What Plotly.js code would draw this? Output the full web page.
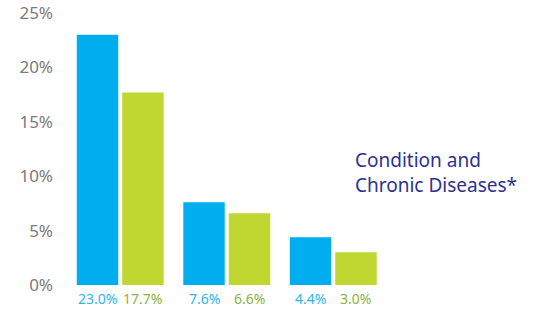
<!DOCTYPE html>
<html>
<head>
<meta charset="utf-8">
<script src="https://cdn.plot.ly/plotly-3.0.1.min.js"></script>
<style>html,body{margin:0;padding:0;background:#fff;}#chart{width:539px;height:310px;}</style>
</head>
<body>
<div id="chart"></div>
<script>
const groups = [0, 1, 2];
const seriesA = [23.0, 7.6, 4.4];
const seriesB = [17.7, 6.6, 3.0];
const labelsA = ["23.0%", "7.6%", "4.4%"];
const labelsB = ["17.7%", "6.6%", "3.0%"];
const yTicks = [0, 5, 10, 15, 20, 25];
const yTickText = ["0%", "5%", "10%", "15%", "20%", "25%"];
const noteText = "Condition and<br>Chronic Diseases*";

const colorA = "#00AEEF", colorB = "#C0D731";
const labelColorA = "#2DB6EC", labelColorB = "#8CB33B";
const fontFam = "'Noto Sans', sans-serif";
const bargap = 0.146;
const slot = (1 - bargap) / 2;

const traces = [
  {type: "bar", x: groups, y: seriesA, marker: {color: colorA}, hoverinfo: "none"},
  {type: "bar", x: groups, y: seriesB, marker: {color: colorB}, hoverinfo: "none"}
];

const annotations = [];
groups.forEach((g, i) => {
  annotations.push({x: g - slot / 2, y: 0, xref: "x", yref: "y", text: labelsA[i], showarrow: false,
    yanchor: "top", yshift: -2, font: {family: fontFam, size: 14, color: labelColorA}});
  annotations.push({x: g + slot / 2, y: 0, xref: "x", yref: "y", text: labelsB[i], showarrow: false,
    yanchor: "top", yshift: -2, font: {family: fontFam, size: 14, color: labelColorB}});
});
annotations.push({x: 0.671, y: 0.412, xref: "paper", yref: "paper", text: noteText, showarrow: false,
  xanchor: "left", yanchor: "middle", align: "left",
  font: {family: fontFam, size: 19, color: "#2E3192"}});

const layout = {
  width: 539, height: 310,
  margin: {l: 67, r: 46, t: 13, b: 25},
  paper_bgcolor: "#fff", plot_bgcolor: "#fff",
  showlegend: false,
  bargap: bargap, bargroupgap: 0.088, barmode: "group",
  xaxis: {range: [-0.5, 3.5], showticklabels: false, showgrid: false, zeroline: false, showline: false, ticks: ""},
  yaxis: {range: [0, 25], tickvals: yTicks, ticktext: yTickText, showgrid: false, zeroline: false,
    showline: false, ticks: "", ticklabelstandoff: 13,
    tickfont: {family: fontFam, size: 17, color: "#7A7A7A"}},
  annotations: annotations
};

Plotly.newPlot("chart", traces, layout, {displayModeBar: false, staticPlot: true});
</script>
</body>
</html>
